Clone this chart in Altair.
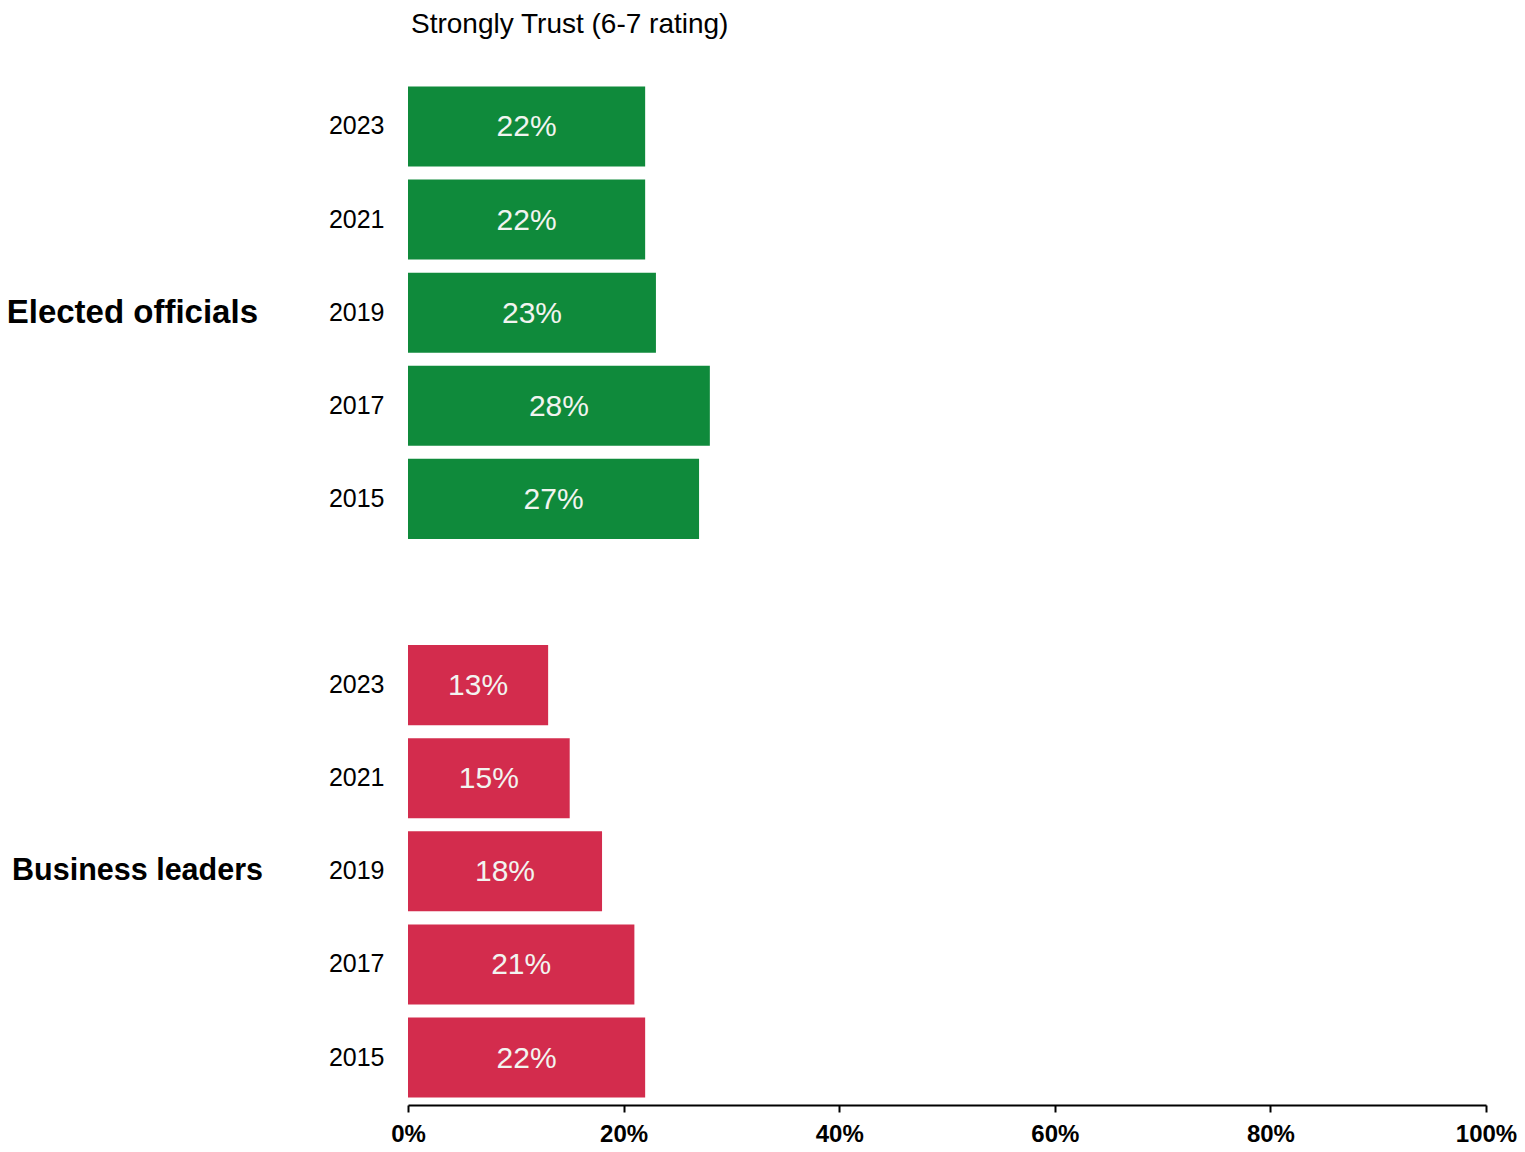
import altair as alt
import pandas as pd

title_text = ["Strongly Trust (6-7 rating)"]
groups = ["Elected officials", "Business leaders"]
group_codes = ["E", "B"]
years = ["2023", "2021", "2019", "2017", "2015"]
elected_values = [22, 22, 23, 28, 27]
business_values = [13, 15, 18, 21, 22]
colors = ["#0f8a3b", "#d32c4d"]
x_ticks = [0, 20, 40, 60, 80, 100]

rows = []
for g, code, vals in zip(groups, group_codes, [elected_values, business_values]):
    for y, v in zip(years, vals):
        rows.append({"group": g, "key": code + y, "year": y, "value": v, "label": f"{v}%"})
df = pd.DataFrame(rows)

y_domain = [group_codes[0] + y for y in years] + ["gap"] + [group_codes[1] + y for y in years]

glabel_e = pd.DataFrame({"group": [groups[0]], "key": [group_codes[0] + "2019"]})
glabel_b = pd.DataFrame({"group": [groups[1]], "key": [group_codes[1] + "2019"]})
tdf = pd.DataFrame({"t": title_text})

FONT = "Liberation Sans, Arial, sans-serif"
y_scale = alt.Scale(domain=y_domain, paddingInner=0.14, paddingOuter=0.08)

y_enc = alt.Y(
    "key:N",
    scale=y_scale,
    axis=alt.Axis(
        title=None,
        domain=False,
        ticks=False,
        labelExpr="datum.value == 'gap' ? '' : substring(datum.value, 1)",
        labelFontSize=25,
        labelFont=FONT,
        labelColor="#000000",
        labelPadding=24,
    ),
)

x_scale = alt.Scale(domain=[0, 100], nice=False)

bars = alt.Chart(df).mark_bar().encode(
    x=alt.X(
        "value:Q",
        scale=x_scale,
        axis=alt.Axis(
            title=None,
            values=x_ticks,
            labelExpr="datum.value + '%'",
            labelFontSize=24,
            labelFontWeight="bold",
            labelFont=FONT,
            labelColor="#000000",
            labelPadding=10,
            labelFlush=False,
            labelOverlap=False,
            tickSize=7,
            tickWidth=2,
            tickColor="#000000",
            domainColor="#000000",
            domainWidth=2,
            grid=False,
        ),
    ),
    y=y_enc,
    color=alt.Color("group:N", scale=alt.Scale(domain=groups, range=colors), legend=None),
)

bar_text = alt.Chart(df).transform_calculate(mid="datum.value / 2").mark_text(
    align="center", baseline="middle", fontSize=30, font=FONT, color="#f2f4f0", dy=1
).encode(
    x=alt.X("mid:Q", scale=x_scale),
    y=alt.Y("key:N", scale=y_scale),
    text="label:N",
)

group_text_e = alt.Chart(glabel_e).mark_text(
    align="right", baseline="middle", fontSize=33, fontWeight="bold", font=FONT, color="#000000"
).encode(
    x=alt.value(-150),
    y=alt.Y("key:N", scale=y_scale),
    text="group:N",
)

group_text_b = alt.Chart(glabel_b).mark_text(
    align="right", baseline="middle", fontSize=30.5, fontWeight="bold", font=FONT, color="#000000"
).encode(
    x=alt.value(-145),
    y=alt.Y("key:N", scale=y_scale),
    text="group:N",
)

title_mark = alt.Chart(tdf).mark_text(
    align="left", baseline="alphabetic", fontSize=28, font=FONT, color="#000000"
).encode(
    x=alt.value(3),
    y=alt.value(-46),
    text="t:N",
)

chart = alt.layer(bars, bar_text, group_text_e, group_text_b, title_mark).properties(
    width=1078,
    height=1026,
    autosize=alt.AutoSizeParams(type="none"),
    padding={"left": 400, "top": 71, "right": 31, "bottom": 45},
).configure_view(stroke=None)

chart.save("out.html", embed_options={"renderer": "svg", "actions": False})
